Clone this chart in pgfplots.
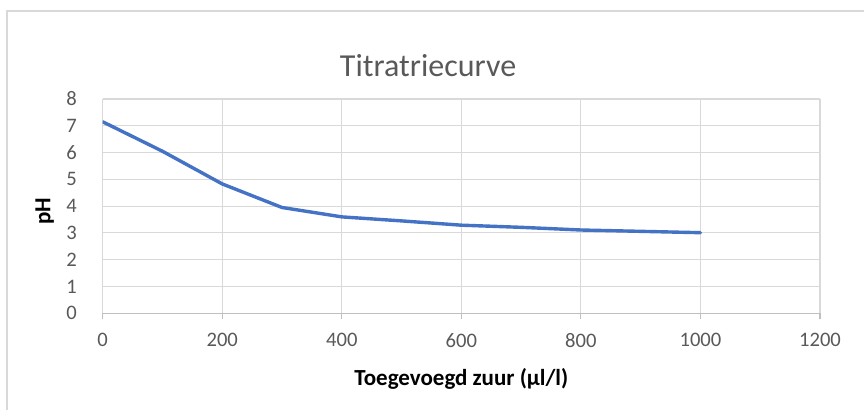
\documentclass[border=0pt]{standalone}
\usepackage{fontspec}
\setmainfont{Carlito}
\usepackage{pgfplots}
\pgfplotsset{compat=1.18}
\definecolor{gridc}{HTML}{D9D9D9}
\definecolor{axisc}{HTML}{BFBFBF}
\definecolor{textc}{HTML}{595959}
\definecolor{linec}{HTML}{4472C4}
\begin{document}
\begin{tikzpicture}
\useasboundingbox (-51.35pt,-47.85pt) rectangle (380.65pt,156.65pt);
\clip (-51.35pt,-47.85pt) rectangle (380.65pt,156.65pt);
\draw[gridc, line width=0.7pt] (-47.85pt,151.15pt) rectangle (420pt,-80pt);
\begin{axis}[
  scale only axis,
  width=358.65pt, height=107.15pt,
  xmin=0, xmax=1200, ymin=0, ymax=8,
  xtick={0,200,...,1200}, ytick={0,1,...,8},
  /pgf/number format/assume math mode=true,
  /pgf/number format/1000 sep={},
  grid=major,
  grid style={draw=gridc, line width=0.55pt},
  axis line style={draw=none},
  tick align=outside,
  xtick pos=bottom, ytick pos=left,
  major tick length=3pt,
  xtick style={draw=axisc, line width=0.55pt},
  ytick style={draw=none},
  ticklabel style={font=\fontsize{10.3}{12}\selectfont, text=textc},
  xticklabel style={anchor=north, inner sep=0pt, yshift=-6.85pt},
  yticklabel style={anchor=east, inner sep=0pt, xshift=-9.7pt},
  xlabel={Toegevoegd zuur (µl/l)},
  ylabel={pH},
  label style={font=\fontsize{11.5}{13}\selectfont\bfseries, text=black},
  xlabel style={at={(axis description cs:0.5,0)}, anchor=base, inner sep=0pt, yshift=-36.2pt},
  ylabel style={at={(axis description cs:-0.081,0.477)}, anchor=center, inner sep=0pt},
  title={Titratriecurve},
  title style={at={(axis description cs:0.4536,0)}, anchor=base, inner sep=0pt, yshift=112.3pt, font=\fontsize{16}{18}\selectfont, text=textc},
]
\addplot[linec, line width=1.7pt, line join=round, line cap=round] coordinates {
  (0,7.15) (100,6.05) (200,4.83) (300,3.95) (400,3.60) (500,3.45)
  (600,3.29) (700,3.21) (800,3.11) (900,3.06) (1000,3.01)
};
\draw[axisc, line width=0.6pt] (axis cs:0,0) -- (axis cs:1200,0);
\end{axis}
\end{tikzpicture}
\end{document}
